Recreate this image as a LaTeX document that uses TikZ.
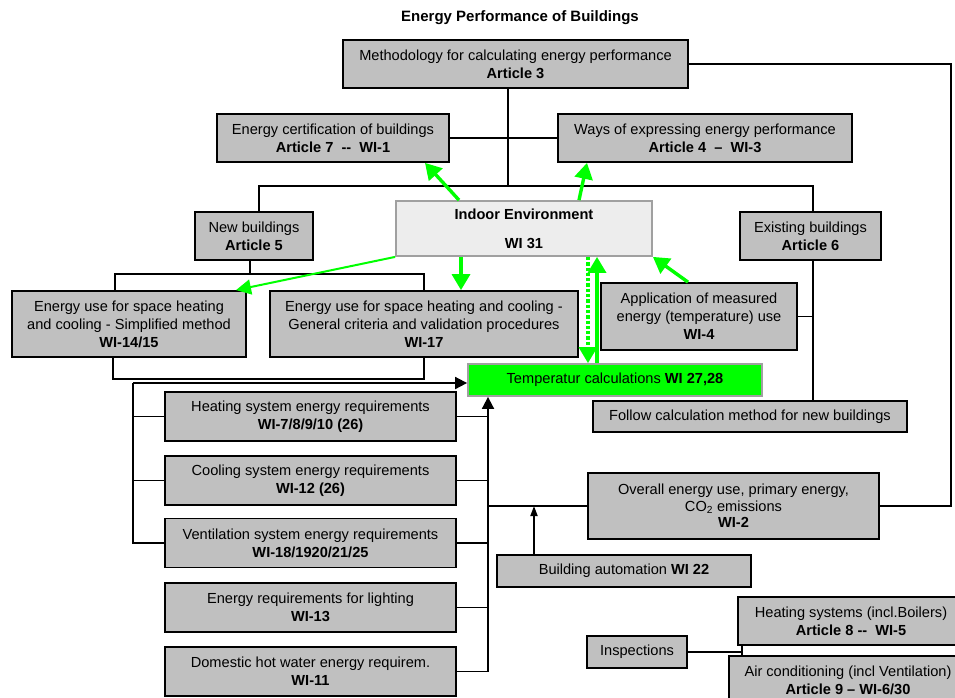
\documentclass[tikz,border=0pt]{standalone}
\usepackage{fontspec}
\setmainfont{Liberation Sans}
\usetikzlibrary{arrows.meta}
\definecolor{boxgray}{HTML}{C0C0C0}
\definecolor{grn}{HTML}{00FF00}
\definecolor{indoorfill}{HTML}{EDEDED}
\definecolor{edgegray}{HTML}{A0A0A0}
\tikzset{
  bx/.style={draw=black, fill=boxgray, line width=1.8pt, align=center, inner sep=0pt,
    font=\fontsize{14.6}{18}\selectfont},
  ln/.style={line width=1.8pt},
  blkarrow/.style={ln, -{Triangle[length=12pt,width=12pt]}},
  smallarrow/.style={ln, -{Triangle[length=10pt,width=7pt]}},
  gthick/.style={draw=grn, line width=3.4pt, -{Triangle[length=16pt,width=18pt]}},
  gthin/.style={draw=grn, line width=2pt, -{Triangle[length=15pt,width=15pt]}},
  gdot/.style={draw=grn, line width=3.4pt, dash pattern=on 3.3pt off 2pt, -{Triangle[length=16pt,width=18pt]}},
}
\begin{document}
\begin{tikzpicture}[x=1pt,y=-1pt]
\path[use as bounding box] (0,0) rectangle (955,697);
\clip (0,0) rectangle (955,697);

% title
\node[font=\fontsize{15}{18}\selectfont\bfseries, inner sep=0pt] (title) at (520,18) {Energy Performance of Buildings};

% boxes
\node[bx, minimum width=345, minimum height=48] (meth) at (515.5,64) {Methodology for calculating energy performance\\\textbf{Article 3}};
\node[bx, minimum width=232, minimum height=48] (cert) at (333,138) {Energy certification of buildings\\\textbf{Article 7\ \ -{}-\ \ WI-1}};
\node[bx, minimum width=294, minimum height=48] (ways) at (705,138) {Ways of expressing energy performance\\\textbf{Article 4\ \ –\ \ WI-3}};
\node[bx, minimum width=118, minimum height=48] (newb) at (254,236) {New buildings\\\textbf{Article 5}};
\node[bx, minimum width=141, minimum height=48] (exist) at (810.5,236) {Existing buildings\\\textbf{Article 6}};
\node[bx, draw=edgegray, fill=indoorfill, minimum width=256, minimum height=55] (indoor) at (524,228.5) {\textbf{Indoor Environment}\\[11pt]\textbf{WI 31}};
\node[bx, minimum width=234, minimum height=66] (simp) at (129,324) {Energy use for space heating\\and cooling - Simplified method\\\textbf{WI-14/15}};
\node[bx, minimum width=308, minimum height=66] (gen) at (424,324) {Energy use for space heating and cooling -\\General criteria and validation procedures\\\textbf{WI-17}};
\node[bx, minimum width=196, minimum height=67] (appl) at (699,316.5) {Application of measured\\energy (temperature) use\\\textbf{WI-4}};
\node[bx, draw=edgegray, fill=grn, minimum width=294, minimum height=32] (temp) at (615,380) {Temperatur calculations \textbf{WI 27,28}};
\node[bx, minimum width=314, minimum height=31] (follow) at (750,416.5) {Follow calculation method for new buildings};
\node[bx, minimum width=291, minimum height=49] (heat) at (310.5,416.5) {Heating system energy requirements\\\textbf{WI-7/8/9/10 (26)}};
\node[bx, minimum width=291, minimum height=49] (cool) at (310.5,480.5) {Cooling system energy requirements\\\textbf{WI-12 (26)}};
\node[bx, minimum width=291, minimum height=49] (vent) at (310.5,543) {Ventilation system energy requirements\\\textbf{WI-18/1920/21/25}};
\node[bx, minimum width=291, minimum height=49] (light) at (310.5,607.5) {Energy requirements for lighting\\\textbf{WI-13}};
\node[bx, minimum width=291, minimum height=49] (dhw) at (310.5,671.5) {Domestic hot water energy requirem.\\\textbf{WI-11}};
\node[bx, minimum width=291, minimum height=66, font=\fontsize{14.6}{16.5}\selectfont] (overall) at (733.5,506) {Overall energy use, primary energy,\\CO\textsubscript{2} emissions\\\textbf{WI-2}};
\node[bx, minimum width=254, minimum height=32] (ba) at (624,571) {Building automation \textbf{WI 22}};
\node[bx, minimum width=100, minimum height=32] (insp) at (637,652) {Inspections};
\node[bx, minimum width=226, minimum height=48] (heatsys) at (851,621) {Heating systems (incl.Boilers)\\\textbf{Article 8 -{}-\ \ WI-5}};
\node[bx, minimum width=238, minimum height=48] (aircon) at (848,680) {Air conditioning (incl Ventilation)\\\textbf{Article 9 – WI-6/30}};

% helper coordinates
\coordinate (j1) at (508,186);
\coordinate (j1L) at (259,186);
\coordinate (j1R) at (813,186);
\coordinate (j2) at (250,274);
\coordinate (j2L) at (115,274);
\coordinate (j2R) at (424,274);
\coordinate (j3L) at (113,379);
\coordinate (j3R) at (424,379);
\coordinate (lb) at (133,383);
\coordinate (rb) at (488,667);
\coordinate (baX) at (534,0);
\coordinate (rr) at (951,0);
\coordinate (ij) at (742,652);

% black connectors
\draw[ln] (j1 |- meth.south) -- (j1);
\draw[ln] (cert.east) -- (ways.west);
\draw[ln] (j1L |- newb.north) -- (j1L) -- (j1R) -- (j1R |- exist.north);
\draw[ln] (j1R |- exist.south) -- (j1R |- follow.north);
\draw[ln] (appl.east) -- (appl.east -| j1R);
\draw[ln] (j2 |- newb.south) -- (j2);
\draw[ln] (j2L |- simp.north) -- (j2L) -- (j2R) -- (j2R |- gen.north);
\draw[ln] (j3L |- simp.south) -- (j3L) -- (j3R) -- (j3R |- gen.south);
\draw[blkarrow] (lb) -- (lb -| temp.west);
\draw[ln] (lb) -- (lb |- vent.west) -- (vent.west);
\draw[ln] (heat.west) -- (heat.west -| lb);
\draw[ln] (cool.west) -- (cool.west -| lb);
\draw[blkarrow] (dhw.east) -- (dhw.east -| rb) -- (rb |- temp.south);
\draw[ln] (heat.east) -- (heat.east -| rb);
\draw[ln] (cool.east) -- (cool.east -| rb);
\draw[ln] (vent.east) -- (vent.east -| rb);
\draw[ln] (light.east) -- (light.east -| rb);
\draw[ln] (overall.west -| rb) -- (overall.west);
\draw[smallarrow] (baX |- ba.north) -- (baX |- overall.west);
\draw[ln] (overall.east) -- (overall.east -| rr) -- (rr |- meth.east) -- (meth.east);
\draw[ln] (insp.east) -- (ij);
\draw[ln] (ij |- heatsys.south) -- (ij |- aircon.north);

% green arrows
\coordinate (ga) at (459,0);
\coordinate (gb) at (425,0);
\coordinate (gc) at (579,0);
\coordinate (gd) at (587,0);
\coordinate (ge) at (236,0);
\coordinate (gf) at (461,0);
\coordinate (gg) at (588,0);
\coordinate (gh) at (597,0);
\coordinate (gi) at (688,0);
\draw[gthick] (indoor.north -| ga) -- (cert.south -| gb);
\draw[gthick] (indoor.north -| gc) -- (ways.south -| gd);
\draw[gthin] (indoor.south west) -- (simp.north -| ge);
\draw[gthick] (indoor.south -| gf) -- (gen.north -| gf);
\draw[gdot] (indoor.south -| gg) -- (temp.north -| gg);
\draw[gthick] (temp.north -| gh) -- (indoor.south -| gh);
\draw[gthick] (appl.north -| gi) -- (indoor.south east);
\end{tikzpicture}
\end{document}
